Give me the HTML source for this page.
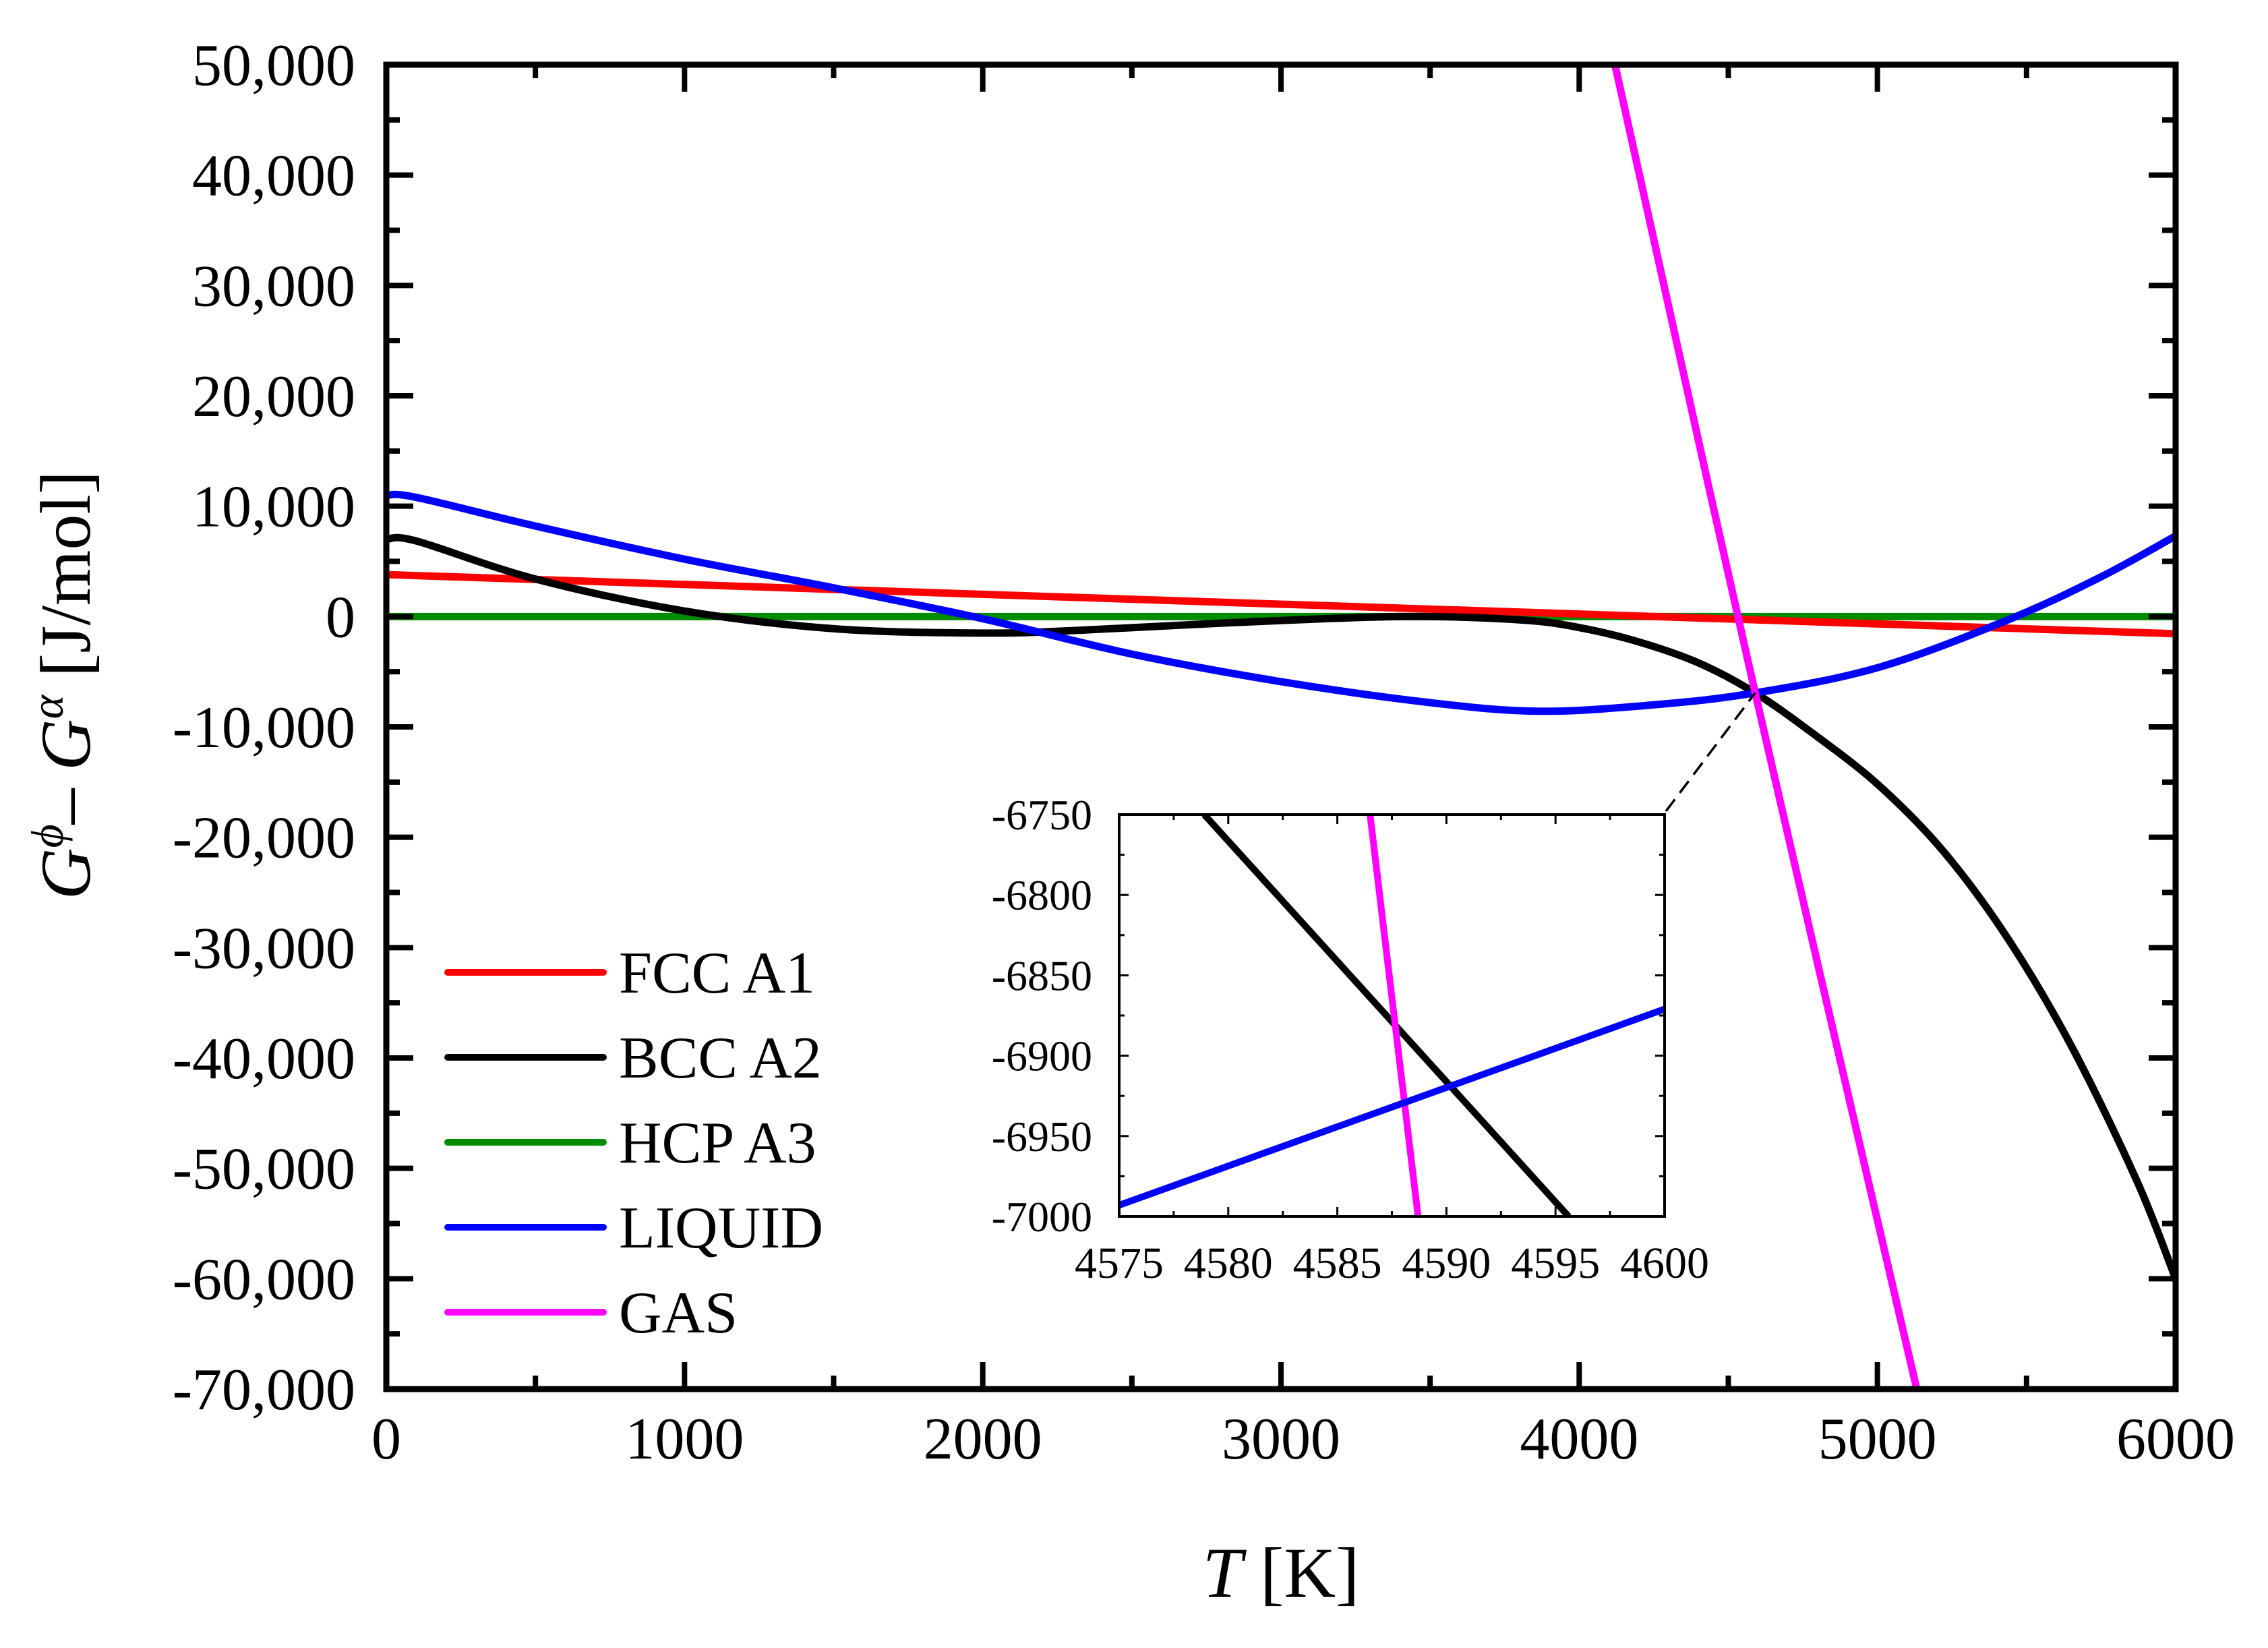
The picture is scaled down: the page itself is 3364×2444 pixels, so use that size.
<!DOCTYPE html>
<html><head><meta charset="utf-8"><style>
html,body{margin:0;padding:0;background:#fff;}
svg{display:block;font-family:"Liberation Serif",serif;}
</style></head><body>
<svg id="chart" width="3364" height="2444" viewBox="0 0 3364 2444" xmlns="http://www.w3.org/2000/svg">
<defs>
<clipPath id="mainClip"><rect x="573" y="96" width="2654" height="1964"/></clipPath>
<clipPath id="insetClip"><rect x="1660" y="1208" width="809" height="596"/></clipPath>
</defs>
<g id="main"></g>
<g id="inset"></g>
<text x="1900" y="2368" font-size="106" text-anchor="middle"><tspan font-style="italic">T</tspan> [K]</text>
<text transform="translate(133,1016) rotate(-90)" font-size="106" text-anchor="middle"><tspan font-style="italic">G</tspan><tspan font-style="italic" font-size="68" dy="-40">ϕ</tspan><tspan dy="40">– </tspan><tspan font-style="italic">G</tspan><tspan font-style="italic" font-size="68" dy="-40">α</tspan><tspan dy="40"> [J/mol]</tspan></text>
</svg>
<script>
const fccT=[0,6000];
const fccG=[3800,-1560];
const bccT=[0,100,500,1000,1500,2000,2322,2800,3400,3800,4000,4200,4400,4590,4789,5005,5222,5438,5654,5871,6000];
const bccG=[7000,6850,3400,500,-1100,-1500,-1250,-600,0,-300,-1000,-2300,-4200,-6920,-10700,-15300,-21300,-29200,-39100,-51200,-60000];
const hcpT=[0,6000];
const hcpG=[0,0];
const liqT=[0,100,500,1000,1500,2000,2500,3000,3500,3866,4250,4590,5005,5438,5750,6000];
const liqG=[11000,10800,8200,5200,2600,-200,-3400,-5900,-7800,-8580,-8000,-6920,-4600,-300,3600,7300];
const gasT=[4120,4590,5132];
const gasG=[50000,-6900,-70000];
const yTicks=[50000,40000,30000,20000,10000,0,-10000,-20000,-30000,-40000,-50000,-60000,-70000];
const yTickLabels=["50,000","40,000","30,000","20,000","10,000","0","-10,000","-20,000","-30,000","-40,000","-50,000","-60,000","-70,000"];
const xTicks=[0,1000,2000,3000,4000,5000,6000];
const xTickLabels=["0","1000","2000","3000","4000","5000","6000"];
const legendNames=["FCC A1","BCC A2","HCP A3","LIQUID","GAS"];
const legendColors=["#ff0000","#000000","#008c00","#0000ff","#ff00ff"];
// inset data
const inBccT=[4578.9,4595.6];
const inBccG=[-6750,-7000];
const inGasT=[4586.5,4588.7];
const inGasG=[-6750,-7000];
const inLiqT=[4575,4600];
const inLiqG=[-6993,-6871];
const inXTicks=[4575,4580,4585,4590,4595,4600];
const inYTicks=[-6750,-6800,-6850,-6900,-6950,-7000];

const NS="http://www.w3.org/2000/svg";
const X0=573,X1=3227,Y0=96,Y1=2060;
const sx=v=>X0+(v-0)/6000*(X1-X0);
const sy=v=>Y0+(50000-v)/120000*(Y1-Y0);
const IX0=1660,IX1=2469,IY0=1208,IY1=1804;
const isx=v=>IX0+(v-4575)/25*(IX1-IX0);
const isy=v=>IY0+(-6750-v)/250*(IY1-IY0);
function mk(tag,attrs,parent){const e=document.createElementNS(NS,tag);for(const k in attrs)e.setAttribute(k,attrs[k]);parent.appendChild(e);return e;}
function pathD(xs,ys,fx,fy){
  const p=xs.map((x,i)=>[fx(x),fy(ys[i])]);
  if(p.length<3)return "M"+p.map(q=>q.join(",")).join("L");
  let d="M"+p[0][0]+","+p[0][1];
  for(let i=0;i<p.length-1;i++){
    const a=p[Math.max(0,i-1)],b=p[i],c=p[i+1],e=p[Math.min(p.length-1,i+2)];
    const c1=[b[0]+(c[0]-a[0])/6,b[1]+(c[1]-a[1])/6];
    const c2=[c[0]-(e[0]-b[0])/6,c[1]-(e[1]-b[1])/6];
    d+="C"+c1.join(",")+" "+c2.join(",")+" "+c.join(",");
  }
  return d;
}
const main=document.getElementById('main');
const curves=mk('g',{'clip-path':'url(#mainClip)'},main);


const series=[[hcpT,hcpG,'#008c00','hcp-a3-line'],[fccT,fccG,'#ff0000','fcc-a1-line'],[bccT,bccG,'#000000','bcc-a2-line'],[liqT,liqG,'#0000ff','liquid-line'],[gasT,gasG,'#ff00ff','gas-line']];
series.forEach(s=>{
  const e=mk('path',{d:pathD(s[0],s[1],sx,sy),fill:'none',stroke:s[2],'stroke-width':11,'stroke-linejoin':'round'},curves);
  
  
});
const frame=mk('rect',{x:X0,y:Y0,width:X1-X0,height:Y1-Y0,fill:'none',stroke:'#000','stroke-width':9},main);


for(let v=50000;v>=-70000;v-=5000){
  const major=v%10000===0;const L=major?40:20;const y=sy(v);
  mk('line',{x1:X0,x2:X0+L,y1:y,y2:y,stroke:'#000','stroke-width':8},main);
  mk('line',{x1:X1,x2:X1-L,y1:y,y2:y,stroke:'#000','stroke-width':8},main);
}
yTicks.forEach((v,i)=>{
  const t=mk('text',{x:527,y:sy(v)+30,'font-size':88,'text-anchor':'end'},main);
  t.textContent=yTickLabels[i];
  
  
});
for(let v=0;v<=6000;v+=500){
  const major=v%1000===0;const L=major?40:20;const x=sx(v);
  mk('line',{x1:x,x2:x,y1:Y1,y2:Y1-L,stroke:'#000','stroke-width':8},main);
  mk('line',{x1:x,x2:x,y1:Y0,y2:Y0+L,stroke:'#000','stroke-width':8},main);
}
xTicks.forEach((v,i)=>{
  const t=mk('text',{x:sx(v),y:2163,'font-size':88,'text-anchor':'middle'},main);
  t.textContent=xTickLabels[i];
  
  
});
legendNames.forEach((n,i)=>{
  const y=1442+i*126;
  const g=mk('g',{},main);
  
  
  mk('line',{x1:664,x2:895,y1:y,y2:y,stroke:legendColors[i],'stroke-width':10,'stroke-linecap':'round'},g);
  const t=mk('text',{x:918,y:y+30,'font-size':88},g);
  t.textContent=n;
});
const dl=mk('line',{x1:2471,y1:1203,x2:sx(4590),y2:sy(-6920),stroke:'#000','stroke-width':3.5,'stroke-dasharray':'22,12'},main);


const ins=document.getElementById('inset');


mk('rect',{x:IX0,y:IY0,width:IX1-IX0,height:IY1-IY0,fill:'#fff',stroke:'none'},ins);
const ic=mk('g',{'clip-path':'url(#insetClip)'},ins);
[[inBccT,inBccG,'#000000','inset-bcc-line'],[inGasT,inGasG,'#ff00ff','inset-gas-line'],[inLiqT,inLiqG,'#0000ff','inset-liquid-line']].forEach(s=>{
  const e=mk('path',{d:pathD(s[0],s[1],isx,isy),fill:'none',stroke:s[2],'stroke-width':10},ic);
  
  
});
mk('rect',{x:IX0,y:IY0,width:IX1-IX0,height:IY1-IY0,fill:'none',stroke:'#000','stroke-width':4},ins);
for(let v=4575;v<=4600;v+=2.5){
  const major=Math.abs((v-4575)%5)<0.01;const L=major?14:8;const x=isx(v);
  mk('line',{x1:x,x2:x,y1:IY1,y2:IY1-L,stroke:'#000','stroke-width':3},ins);
  mk('line',{x1:x,x2:x,y1:IY0,y2:IY0+L,stroke:'#000','stroke-width':3},ins);
}
for(let v=-6750;v>=-7000;v-=25){
  const major=v%50===0;const L=major?14:8;const y=isy(v);
  mk('line',{x1:IX0,x2:IX0+L,y1:y,y2:y,stroke:'#000','stroke-width':3},ins);
  mk('line',{x1:IX1,x2:IX1-L,y1:y,y2:y,stroke:'#000','stroke-width':3},ins);
}
inXTicks.forEach(v=>{
  const t=mk('text',{x:isx(v),y:1895,'font-size':66,'text-anchor':'middle'},ins);
  t.textContent=String(v);
  
  
});
inYTicks.forEach(v=>{
  const t=mk('text',{x:1620,y:isy(v)+22,'font-size':64,'text-anchor':'end'},ins);
  t.textContent=String(v);
  
  
});
</script>
</body></html>
